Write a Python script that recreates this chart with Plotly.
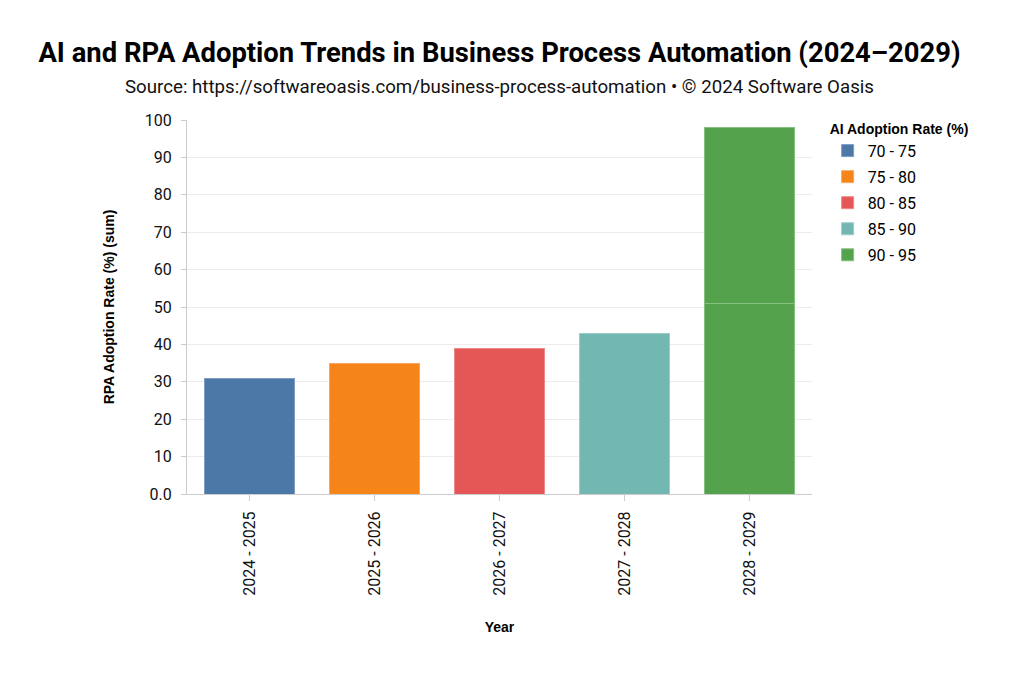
import plotly.graph_objects as go

# datos
years = [2024, 2025, 2026, 2027, 2028, 2029]
rpa_rate = [31, 35, 39, 43, 47, 51]
year_bins = ["2024 - 2025", "2025 - 2026", "2026 - 2027", "2027 - 2028", "2028 - 2029", "2028 - 2029"]
ai_bins = ["70 - 75", "75 - 80", "80 - 85", "85 - 90", "90 - 95", "90 - 95"]
bin_order = ["2024 - 2025", "2025 - 2026", "2026 - 2027", "2027 - 2028", "2028 - 2029"]
y_ticks = [0, 10, 20, 30, 40, 50, 60, 70, 80, 90, 100]
y_ticktext = ["0.0", "10", "20", "30", "40", "50", "60", "70", "80", "90", "100"]

colores = {"70 - 75": "#4c78a8", "75 - 80": "#f58518", "80 - 85": "#e45756",
           "85 - 90": "#72b7b2", "90 - 95": "#54a24b"}
bordes = {"70 - 75": "#7f9cc2", "75 - 80": "#f8a65d", "80 - 85": "#ec8b89",
          "85 - 90": "#9ccdc9", "90 - 95": "#86c07f"}
fuente_eje = "Liberation Sans"

fig = go.Figure()
vistos = set()
# un trace por registro; en el bin compartido el año mas reciente va abajo
registros = sorted(zip(years, year_bins, ai_bins, rpa_rate), key=lambda r: (r[1], -r[0]))
for yr, xb, ab, v in registros:
    fig.add_trace(go.Bar(
        x=[xb], y=[v], name=ab, legendgroup=ab,
        showlegend=ab not in vistos,
        marker=dict(color=colores[ab], line=dict(color=bordes[ab], width=1)),
        hovertemplate=f"Year: {yr}<br>RPA: %{{y}}%<extra>{ab}</extra>",
    ))
    vistos.add(ab)

fig.update_layout(
    barmode="stack", bargap=0.28,
    width=1024, height=675,
    paper_bgcolor="white", plot_bgcolor="white",
    font=dict(family="Roboto", size=16, color="#222"),
    margin=dict(l=179, r=220, t=112, b=189),
    title=dict(
        text="<b>AI and RPA Adoption Trends in Business Process Automation (2024–2029)</b>",
        x=0.5, xref="paper", xanchor="center", y=1 - 44 / 675, yref="container", yanchor="middle",
        font=dict(family="Roboto", size=27.4, color="#000"),
    ),
    legend=dict(
        title=dict(text="<b>AI Adoption Rate (%)</b>", font=dict(family=fuente_eje, size=14, color="#000")),
        x=1.025, xanchor="left", y=1.012, yanchor="top",
        font=dict(size=16, color="#000"), tracegroupgap=2.25,
        bgcolor="rgba(0,0,0,0)",
    ),
)

fig.add_annotation(
    text="Source: https://softwareoasis.com/business-process-automation • © 2024 Software Oasis",
    xref="paper", yref="paper", x=0.5, y=1.0, yshift=33, xanchor="center", yanchor="middle",
    showarrow=False, font=dict(family="Roboto", size=18.7, color="#111"),
)

fig.update_xaxes(
    type="category", categoryorder="array", categoryarray=bin_order,
    tickangle=-90, ticks="outside", ticklen=6, tickcolor="#ccc",
    showline=True, linecolor="#ccc", linewidth=1, showgrid=False,
    tickfont=dict(size=16, color="#111"), ticklabelstandoff=4,
    title=dict(text="<b>Year</b>", font=dict(family=fuente_eje, size=14, color="#000"), standoff=27),
)
fig.update_yaxes(
    range=[0, 100], tickvals=y_ticks, ticktext=y_ticktext,
    ticks="outside", ticklen=5, tickcolor="#ccc",
    showline=True, linecolor="#ccc", linewidth=1,
    showgrid=True, gridcolor="#ececec", zeroline=False,
    tickfont=dict(size=16, color="#111"), ticklabelstandoff=6,
    title=dict(text="<b>RPA Adoption Rate (%) (sum)</b>", font=dict(family=fuente_eje, size=14, color="#000"), standoff=26),
)

fig.write_html("out.html")
